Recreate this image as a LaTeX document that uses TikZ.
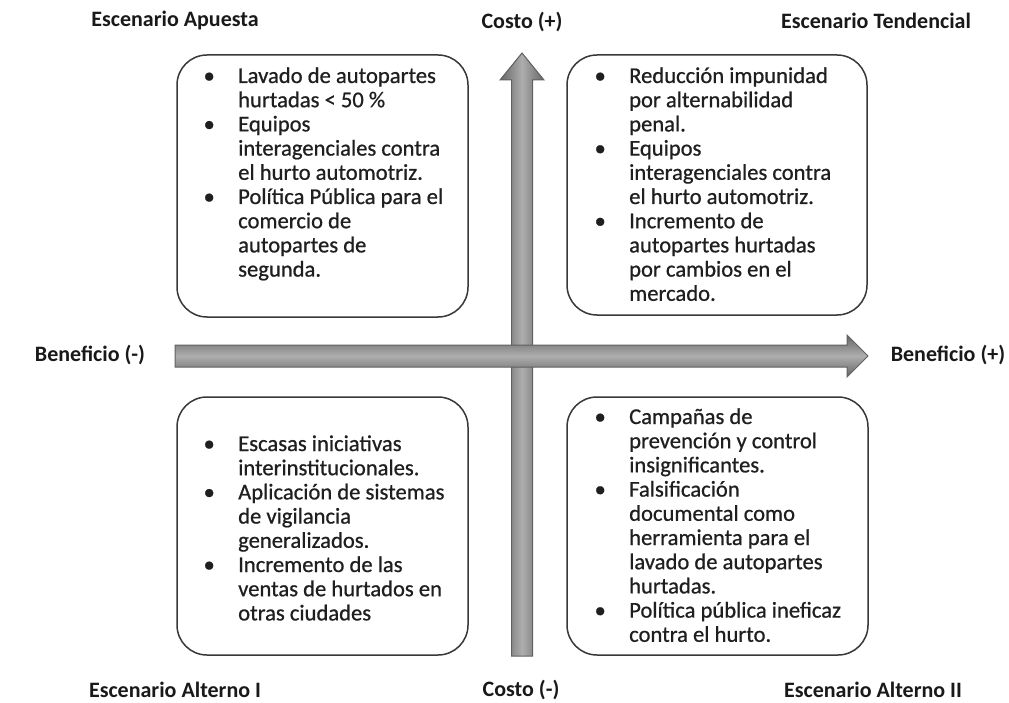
\documentclass[tikz,border=0pt]{standalone}
\usepackage{fontspec}
\setmainfont{Carlito}
\newfontfamily\boxfont[FakeBold=0.7]{Carlito}
\newcommand\bul{\makebox[38pt][l]{\makebox[18pt]{•}}}
\newcommand\nob{\hspace*{38pt}}
\begin{document}
\begin{tikzpicture}[x=1pt,y=-1pt,
  boxst/.style={draw=black!78, line width=1.5pt, rounded corners=30pt},
  lab/.style={font=\fontsize{22}{24}\selectfont\bfseries, text=black!90, inner sep=0pt},
  txt/.style={font=\boxfont\fontsize{22.6}{24.2}\selectfont, text=black!88, inner sep=0pt, anchor=base west},
  arrowst/.style={draw=black!62, line width=1pt}
]
\useasboundingbox (0,0) rectangle (1009,703);
\fill[white] (0,0) rectangle (1009,703);

% boxes
\node[boxst, minimum width=291pt, minimum height=262pt, inner sep=0pt] (b1) at (322.5,186) {};
\node[boxst, minimum width=300pt, minimum height=260pt, inner sep=0pt] (b2) at (717,185) {};
\node[boxst, minimum width=291pt, minimum height=258pt, inner sep=0pt] (b3) at (322.5,526) {};
\node[boxst, minimum width=301pt, minimum height=258pt, inner sep=0pt] (b4) at (717.5,526) {};

% axes
\coordinate (vbot) at (522,656);
\coordinate (vtip) at (522,53);
\coordinate (hleft) at (175,356);
\coordinate (htip) at (868,356);
\path[arrowst, left color=black!60, right color=black!60, middle color=black!32]
  (511.5,656) -- (511.5,80) -- (500,80) -- (vtip) -- (544,80) -- (532.5,80) -- (532.5,656) -- cycle;
\path[arrowst, top color=black!60, bottom color=black!60, middle color=black!32]
  (175,345) -- (847,345) -- (847,335) -- (htip) -- (847,377) -- (847,367) -- (175,367) -- cycle;

% labels
\node[lab] (ap) at (175,21) {Escenario Apuesta};
\node[lab] (cp) at (522,22) {Costo (+)};
\node[lab] (te) at (876,21) {Escenario Tendencial};
\node[lab] (bm) at (90,355) {Beneficio (-)};
\node[lab] (bp) at (948,355) {Beneficio (+)};
\node[lab] (a1) at (175,690) {Escenario Alterno I};
\node[lab] (cm) at (521,690) {Costo (-)};
\node[lab] (a2) at (873,690) {Escenario Alterno II};

% box texts
\node[txt] (t1) at (200,83) {\begin{tabular}[t]{@{}l@{}}
\bul Lavado de autopartes\\
\nob hurtadas < 50 \%\\
\bul Equipos\\
\nob interagenciales contra\\
\nob el hurto automotriz.\\
\bul Política Pública para el\\
\nob comercio de\\
\nob autopartes de\\
\nob segunda.
\end{tabular}};
\node[txt] (t2) at (591,83) {\begin{tabular}[t]{@{}l@{}}
\bul Reducción impunidad\\
\nob por alternabilidad\\
\nob penal.\\
\bul Equipos\\
\nob interagenciales contra\\
\nob el hurto automotriz.\\
\bul Incremento de\\
\nob autopartes hurtadas\\
\nob por cambios en el\\
\nob mercado.
\end{tabular}};
\node[txt] (t3) at (200,451) {\begin{tabular}[t]{@{}l@{}}
\bul Escasas iniciativas\\
\nob interinstitucionales.\\
\bul Aplicación de sistemas\\
\nob de vigilancia\\
\nob generalizados.\\
\bul Incremento de las\\
\nob ventas de hurtados en\\
\nob otras ciudades
\end{tabular}};
\node[txt] (t4) at (591,424) {\begin{tabular}[t]{@{}l@{}}
\bul Campañas de\\
\nob prevención y control\\
\nob insignificantes.\\
\bul Falsificación\\
\nob documental como\\
\nob herramienta para el\\
\nob lavado de autopartes\\
\nob hurtadas.\\
\bul Política pública ineficaz\\
\nob contra el hurto.
\end{tabular}};
\end{tikzpicture}
\end{document}
